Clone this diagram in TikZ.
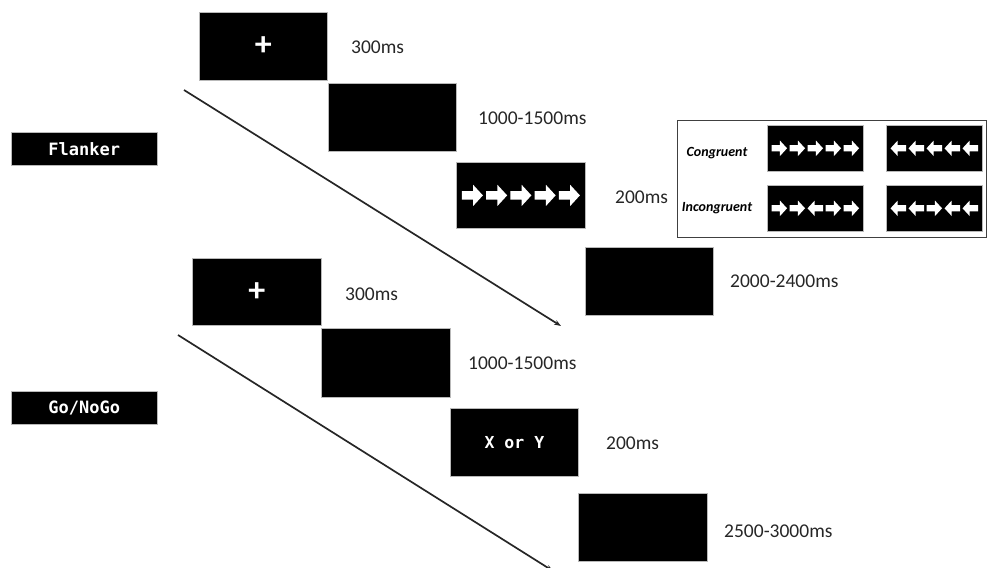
\documentclass[tikz,border=0pt]{standalone}
\usepackage{fontspec}
\setmainfont{Carlito}
\newfontfamily\monofont{DejaVu Sans Mono}
\usetikzlibrary{arrows.meta,calc}

\tikzset{
  screen/.style={fill=black, draw=gray!55, line width=0.8pt, anchor=north west,
                 minimum width=128pt, minimum height=68pt, inner sep=0pt},
  minis/.style={fill=black, draw=gray!55, line width=0.6pt, anchor=north west,
                minimum width=96pt, minimum height=46pt, inner sep=0pt},
  tasklabel/.style={fill=black, draw=gray!55, line width=0.6pt, anchor=north west,
                    minimum width=146pt, minimum height=33pt, inner sep=0pt,
                    text=white, font=\monofont\bfseries\fontsize{17}{19}\selectfont},
  dur/.style={anchor=west, inner sep=0pt, text=black!85, font=\fontsize{19.5}{21}\selectfont},
  cond/.style={anchor=center, inner sep=0pt, font=\bfseries\itshape\fontsize{14}{16}\selectfont},
  timeline/.style={line width=1.7pt, black!85},
  rarr/.pic={\fill[white] (-0.5,-0.2) -- (0.04,-0.2) -- (0.04,-0.5) -- (0.5,0)
             -- (0.04,0.5) -- (0.04,0.2) -- (-0.5,0.2) -- cycle;},
  larr/.pic={\fill[white] (0.5,-0.2) -- (-0.04,-0.2) -- (-0.04,-0.5) -- (-0.5,0)
             -- (-0.04,0.5) -- (-0.04,0.2) -- (0.5,0.2) -- cycle;}
}

\begin{document}
\begin{tikzpicture}[x=1pt,y=-1pt]
\useasboundingbox (0,0) rectangle (989,568);

% task labels
\node[tasklabel] (flanker) at (11,132) {Flanker};
\node[tasklabel] (gonogo) at (11,391) {Go/NoGo};

% ---- Flanker trial sequence ----
\node[screen] (f1) at (199,12) {};
\node[text=white, font=\bfseries\fontsize{34}{34}\selectfont, inner sep=0pt] (f1plus) at (f1.center) {+};
\node[dur] (f1t) at (351,47) {300ms};

\node[screen] (f2) at (328,83) {};
\node[dur] (f2t) at (478,118) {1000-1500ms};

\node[screen, minimum width=129pt, minimum height=66pt] (f3) at (456,162) {};
\foreach \k in {-2,...,2}
  \pic[scale=21] at ($(f3.center)+(\k*24.25,0)$) {rarr};
\node[dur] (f3t) at (615,197) {200ms};

\node[screen] (f4) at (585,247) {};
\node[dur] (f4t) at (730,281) {2000-2400ms};

\coordinate (fs) at (184,90);
\coordinate (fe) at (561,326);
\draw[timeline, -{Stealth[length=7pt,width=5pt]}] (fs) -- (fe);

% ---- stimulus examples ----
\node[draw=black!75, line width=1.3pt, anchor=north west, minimum width=309pt,
      minimum height=117pt, inner sep=0pt] (frame) at (677,120) {};
\node[cond] (cong) at (717,153) {Congruent};
\node[cond] (incong) at (717,208) {Incongruent};

\node[minis] (ca) at (767,125) {};
\node[minis] (cb) at (886,125) {};
\node[minis] (ia) at (767,185) {};
\node[minis] (ib) at (886,185) {};

\foreach \k in {-2,...,2} {
  \pic[scale=15.5] at ($(ca.center)+(\k*18,0)$) {rarr};
  \pic[scale=15.5] at ($(cb.center)+(\k*18,0)$) {larr};
}
\foreach \k in {-2,-1,1,2} {
  \pic[scale=15.5] at ($(ia.center)+(\k*18,0)$) {rarr};
  \pic[scale=15.5] at ($(ib.center)+(\k*18,0)$) {larr};
}
\pic[scale=15.5] at (ia.center) {larr};
\pic[scale=15.5] at (ib.center) {rarr};

% ---- Go/NoGo trial sequence ----
\node[screen, minimum width=129pt, minimum height=67pt] (g1) at (192,258) {};
\node[text=white, font=\bfseries\fontsize{34}{34}\selectfont, inner sep=0pt] (g1plus) at (g1.center) {+};
\node[dur] (g1t) at (345,294) {300ms};

\node[screen, minimum width=129pt, minimum height=69pt] (g2) at (321,328) {};
\node[dur] (g2t) at (468,363) {1000-1500ms};

\node[screen] (g3) at (450,408) {};
\node[text=white, font=\monofont\bfseries\fontsize{16.5}{18}\selectfont, inner sep=0pt] (g3txt) at (g3.center) {X or Y};
\node[dur] (g3t) at (606,443) {200ms};

\node[screen, minimum width=129pt] (g4) at (578,493) {};
\node[dur] (g4t) at (724,531) {2500-3000ms};

\coordinate (gs) at (178,335);
\coordinate (ge) at (553,571);
\draw[timeline, -{Stealth[length=7pt,width=5pt]}] (gs) -- (ge);
\end{tikzpicture}
\end{document}
